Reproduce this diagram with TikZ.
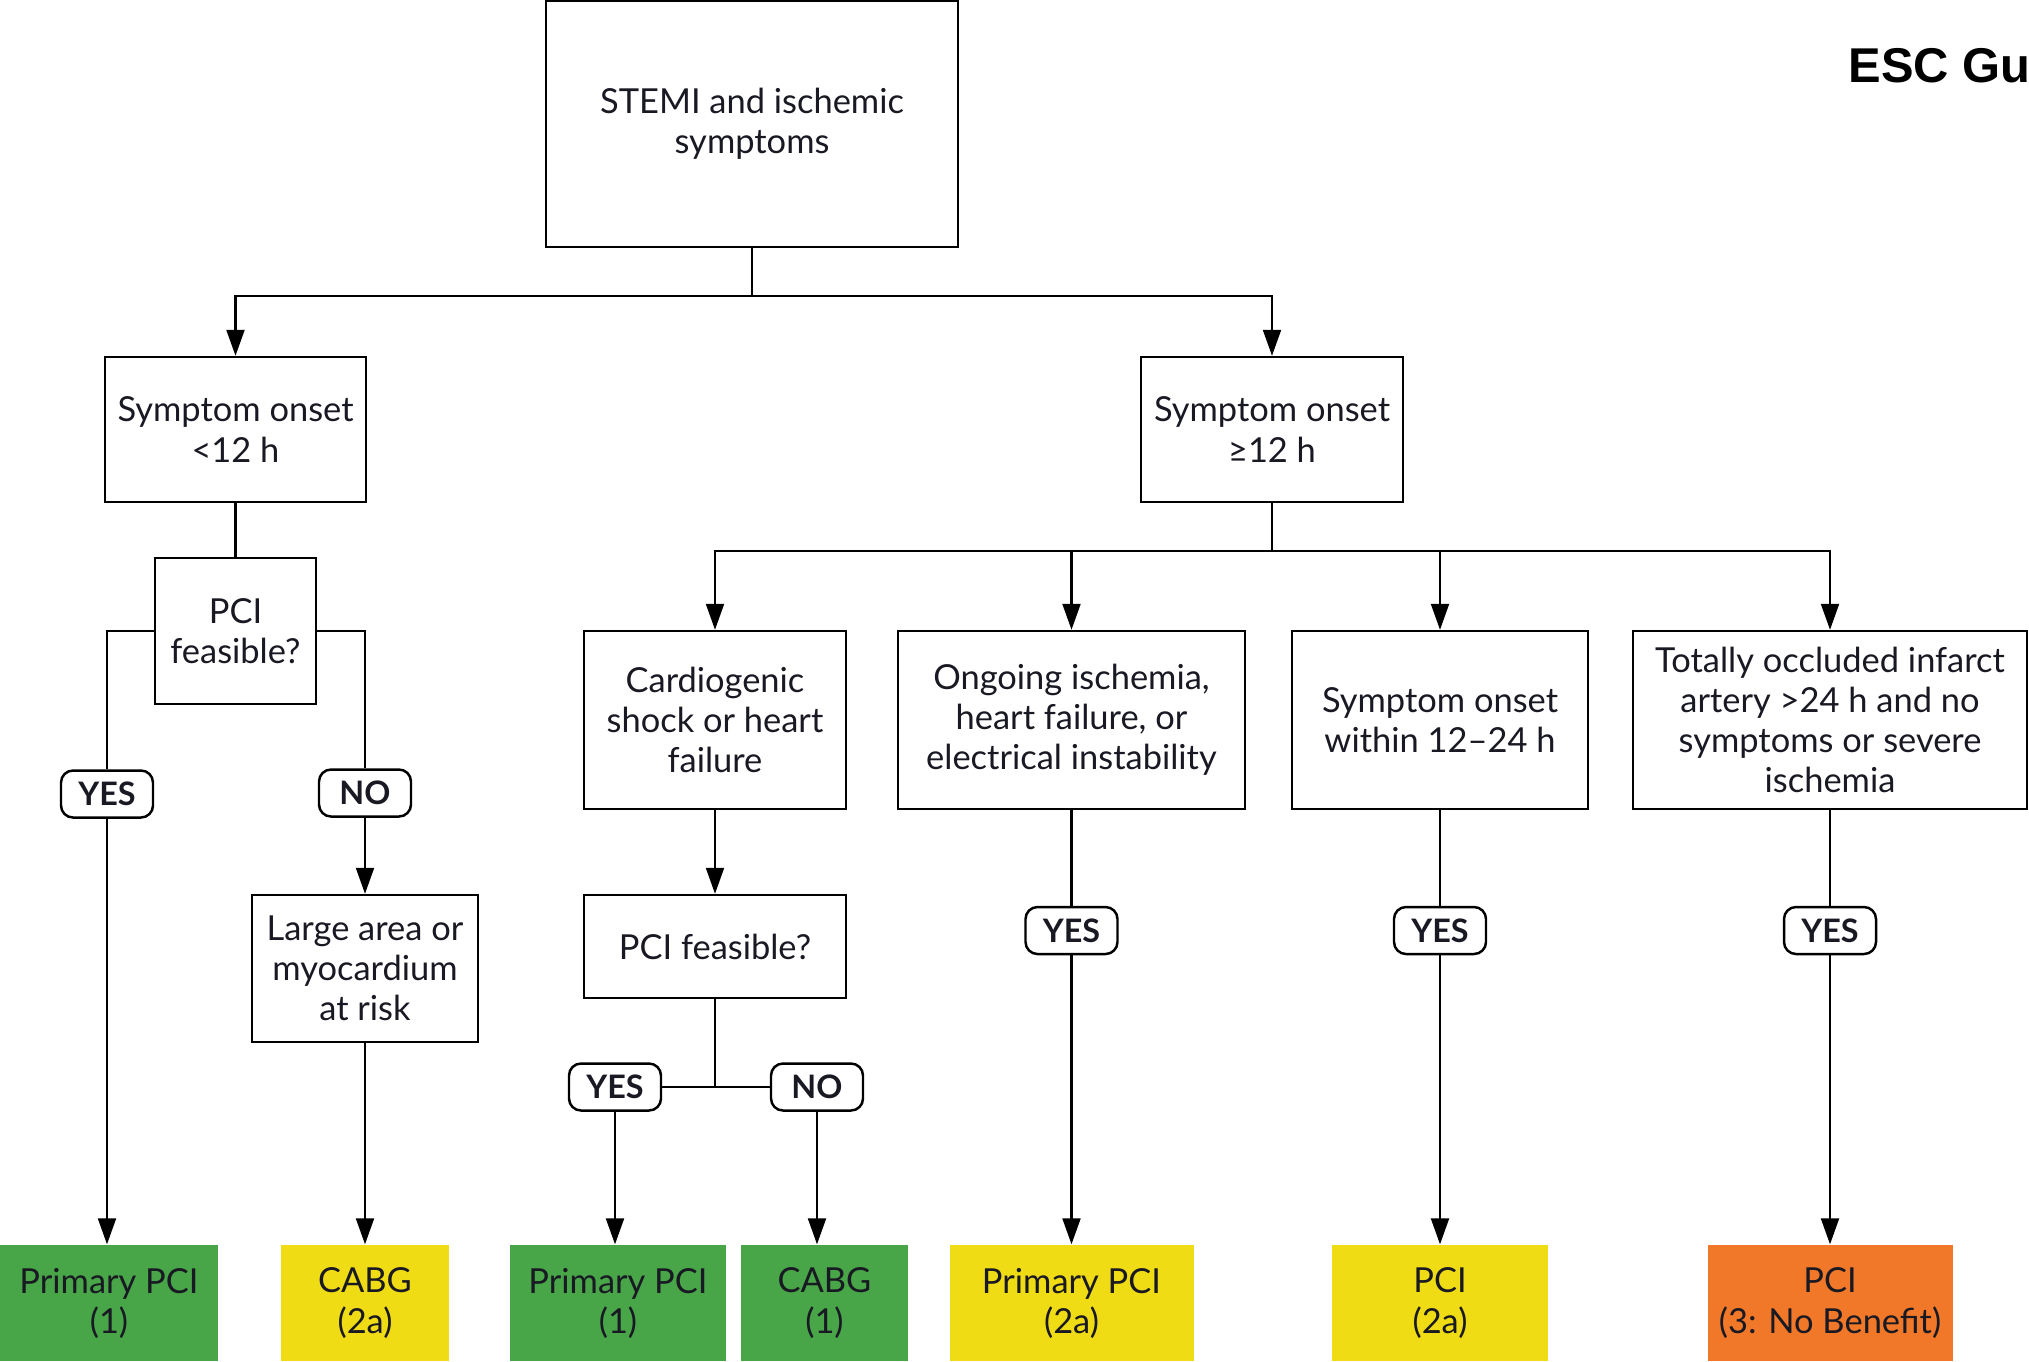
\documentclass[tikz,border=0pt]{standalone}
\usepackage{fontspec}
\setmainfont{Lato}
\newfontfamily\escfont{Liberation Sans}
\usetikzlibrary{arrows.meta}
\definecolor{recgreen}{RGB}{72,165,72}
\definecolor{recyellow}{RGB}{240,220,20}
\definecolor{recorange}{RGB}{240,120,40}
\definecolor{boxtext}{RGB}{25,25,35}

\begin{document}
\begin{tikzpicture}[
    every node/.style={font=\fontsize{9.8}{11.4}\selectfont, text=boxtext},
    box/.style={draw, line width=0.7pt, align=center, inner sep=0pt},
    pill/.style={draw, line width=0.7pt, rounded corners=0.12cm, minimum width=0.92cm, minimum height=0.47cm, inner sep=0pt, font=\fontsize{9.2}{10}\selectfont\bfseries},
    outcome/.style={align=center, inner sep=0pt, minimum height=1.16cm},
    link/.style={line width=0.6pt},
    arr/.style={link, -{Triangle[length=0.26cm,width=0.18cm]}}
]
    \useasboundingbox (0,0) rectangle (20.29,-13.61);

    % Title corner
    \node[anchor=base west, inner sep=0pt, text=black, font=\escfont\bfseries\fontsize{13.9}{16}\selectfont] (esc) at (18.48,-0.82) {ESC Gu};

    % Top
    \node[box, minimum width=4.12cm, minimum height=2.46cm] (stemi) at (7.52,-1.24) {STEMI and ischemic\\symptoms};
    \node[box, minimum width=2.61cm, minimum height=1.45cm] (onsetA) at (2.355,-4.295) {Symptom onset\\<12 h};
    \node[box, minimum width=2.62cm, minimum height=1.45cm] (onsetB) at (12.72,-4.295) {Symptom onset\\≥12 h};
    \coordinate (split1) at (7.52,-2.96);
    \draw[arr] (stemi.south) -- (split1) -| (onsetA.north);
    \draw[arr] (stemi.south) -- (split1) -| (onsetB.north);

    % Left branch: onset <12 h
    \node[box, minimum width=1.61cm, minimum height=1.46cm] (pciA) at (2.355,-6.31) {PCI\\feasible?};
    \node[pill] (yesA) at (1.07,-7.94) {YES};
    \node[pill] (noA) at (3.65,-7.93) {NO};
    \node[box, minimum width=2.26cm, minimum height=1.47cm] (large) at (3.65,-9.685) {Large area or\\myocardium\\at risk};
    \draw[link] (onsetA.south) -- (pciA.north);
    \draw[link] (pciA.west) -| (yesA.north);
    \draw[link] (pciA.east) -| (noA.north);
    \draw[arr] (noA.south) -- (large.north);

    % Right branch: onset >=12 h
    \node[box, minimum width=2.62cm, minimum height=1.78cm] (shock) at (7.15,-7.20) {Cardiogenic\\shock or heart\\failure};
    \node[box, minimum width=3.47cm, minimum height=1.78cm] (ongoing) at (10.715,-7.20) {Ongoing ischemia,\\heart failure, or\\electrical instability};
    \node[box, minimum width=2.96cm, minimum height=1.78cm] (within) at (14.40,-7.20) {Symptom onset\\within 12–24 h};
    \node[box, minimum width=3.94cm, minimum height=1.78cm] (totally) at (18.30,-7.20) {Totally occluded infarct\\artery >24 h and no\\symptoms or severe\\ischemia};
    \coordinate (split2) at (12.72,-5.51);
    \draw[link] (onsetB.south) -- (split2);
    \draw[arr] (split2) -| (shock.north);
    \draw[arr] (split2) -| (ongoing.north);
    \draw[arr] (split2) -| (within.north);
    \draw[arr] (split2) -| (totally.north);

    \node[box, minimum width=2.62cm, minimum height=1.03cm] (pciB) at (7.15,-9.465) {PCI feasible?};
    \draw[arr] (shock.south) -- (pciB.north);
    \node[pill] (yesB) at (6.15,-10.87) {YES};
    \node[pill] (noB) at (8.17,-10.87) {NO};
    \coordinate (split3) at (7.15,-10.87);
    \draw[link] (pciB.south) -- (split3);
    \draw[link] (yesB.east) -- (noB.west);

    \node[pill] (yesC) at (10.715,-9.305) {YES};
    \node[pill] (yesD) at (14.40,-9.305) {YES};
    \node[pill] (yesE) at (18.30,-9.305) {YES};
    \draw[link] (ongoing.south) -- (yesC.north);
    \draw[link] (within.south) -- (yesD.north);
    \draw[link] (totally.south) -- (yesE.north);

    % Recommendations
    \node[outcome, fill=recgreen, minimum width=2.18cm] (out1) at (1.09,-13.03) {Primary PCI\\(1)};
    \node[outcome, fill=recyellow, minimum width=1.68cm] (out2) at (3.65,-13.03) {CABG\\(2a)};
    \node[outcome, fill=recgreen, minimum width=2.16cm] (out3) at (6.18,-13.03) {Primary PCI\\(1)};
    \node[outcome, fill=recgreen, minimum width=1.67cm] (out4) at (8.245,-13.03) {CABG\\(1)};
    \node[outcome, fill=recyellow, minimum width=2.44cm] (out5) at (10.715,-13.03) {Primary PCI\\(2a)};
    \node[outcome, fill=recyellow, minimum width=2.16cm] (out6) at (14.40,-13.03) {PCI\\(2a)};
    \node[outcome, fill=recorange, minimum width=2.45cm] (out7) at (18.30,-13.03) {PCI\\(3: No Benefit)};

    \draw[arr] (yesA.south) -- (yesA.south |- out1.north);
    \draw[arr] (large.south) -- (out2.north);
    \draw[arr] (yesB.south) -- (yesB.south |- out3.north);
    \draw[arr] (noB.south) -- (noB.south |- out4.north);
    \draw[arr] (yesC.south) -- (out5.north);
    \draw[arr] (yesD.south) -- (out6.north);
    \draw[arr] (yesE.south) -- (out7.north);
\end{tikzpicture}
\end{document}
